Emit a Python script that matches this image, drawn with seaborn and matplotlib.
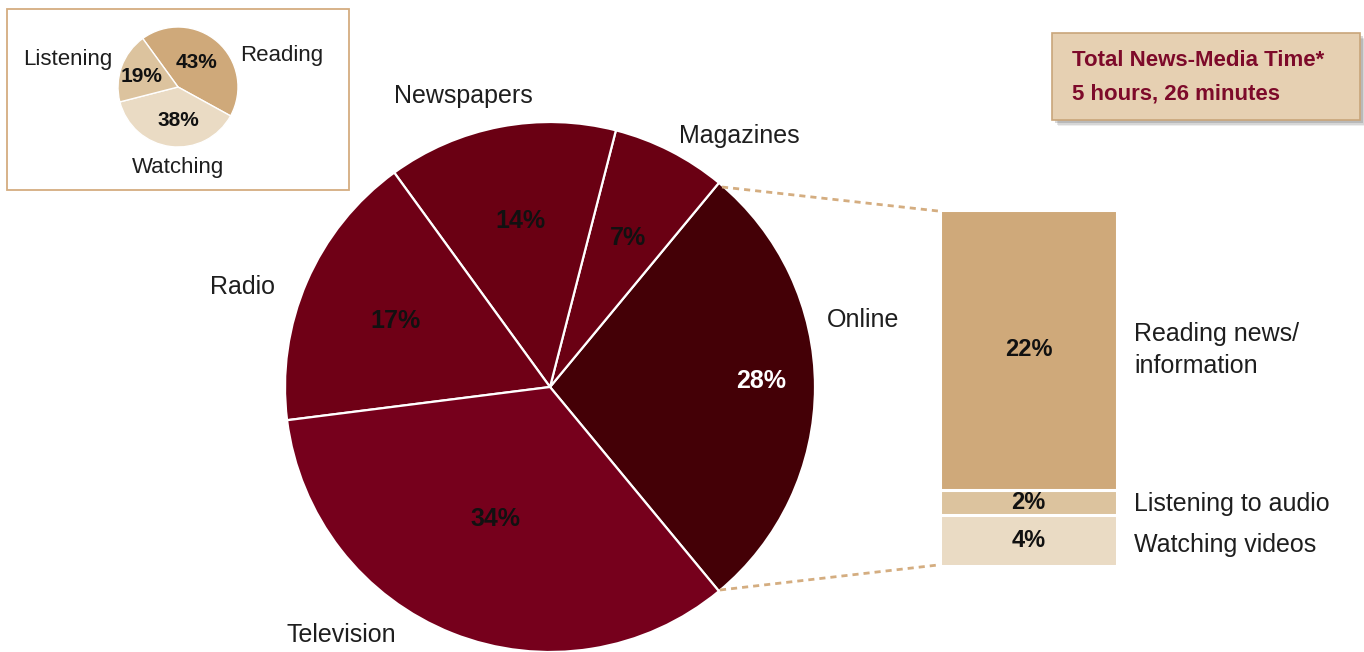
import matplotlib
matplotlib.use("Agg")
import matplotlib.pyplot as plt
from matplotlib.patches import Rectangle
import seaborn as sns

# --- data -----------------------------------------------------------------
media = ["Online", "Magazines", "Newspapers", "Radio", "Television"]
media_share = [28, 7, 14, 17, 34]
media_colors = ["#440006", "#6a0013", "#6a0013", "#6f0016", "#76001c"]

mode = ["Reading", "Watching", "Listening"]
mode_share = [43, 38, 19]
mode_colors = ["#cfa97a", "#eadbc4", "#dcc39e"]

online_parts = ["Watching videos", "Listening to audio", "Reading news/\ninformation"]
online_share = [4, 2, 22]
online_colors = ["#eadbc4", "#dcc39e", "#cfa97a"]

title_lines = ["Total News-Media Time*", "5 hours, 26 minutes"]

# --- style ----------------------------------------------------------------
sns.set_theme(style="white")
plt.rcParams["font.family"] = ["Liberation Sans", "DejaVu Sans"]

W, H = 1364, 652
fig = plt.figure(figsize=(W / 100, H / 100), dpi=100)
fig.patch.set_facecolor("white")

TXT = "#1e1e1e"


def pie_axes(cx, cy, r, pad=1.03):
    """Square axes centred on pixel (cx, cy) holding a unit pie of radius r px."""
    half = r * pad
    ax = fig.add_axes([(cx - half) / W, (H - cy - half) / H, 2 * half / W, 2 * half / H])
    return ax, pad


# main pie
axp, pad = pie_axes(550, 387, 265)
axp.pie(media_share, colors=media_colors, startangle=-50.4, counterclock=True,
        radius=1, wedgeprops=dict(edgecolor="white", linewidth=1.6))
axp.set_xlim(-pad, pad)
axp.set_ylim(-pad, pad)
axp.set_aspect("equal")
axp.axis("off")

# inset pie
axi, pad_i = pie_axes(178, 87, 60)
axi.pie(mode_share, colors=mode_colors, startangle=126, counterclock=False,
        radius=1, wedgeprops=dict(edgecolor="white", linewidth=1.0))
axi.set_xlim(-pad_i, pad_i)
axi.set_ylim(-pad_i, pad_i)
axi.set_aspect("equal")
axi.axis("off")

# breakdown of the online slice as a stacked column
axb = fig.add_axes([940 / W, (H - 566) / H, 177 / W, 356 / H])
bottom = 0
for share, col in zip(online_share, online_colors):
    axb.bar(0, share, bottom=bottom, width=1.0, color=col,
            edgecolor="white", linewidth=2.2)
    axb.text(0, bottom + share / 2, f"{share}%", ha="center", va="center",
             fontsize=17, fontweight="bold", color="#111111")
    bottom += share
axb.set_xlim(-0.5, 0.5)
axb.set_ylim(0, sum(online_share))
axb.axis("off")

# overlay in pixel coordinates for labels, frame, box and connectors
ax = fig.add_axes([0, 0, 1, 1], zorder=10)
ax.set_xlim(0, W)
ax.set_ylim(H, 0)
ax.patch.set_alpha(0)
ax.axis("off")

# main pie labels
main_name_pos = {"Online": (863, 320), "Magazines": (739, 136),
                 "Newspapers": (463, 96), "Radio": (242, 287),
                 "Television": (341, 635)}
main_pct_pos = {"Online": (761, 381), "Magazines": (628, 238),
                "Newspapers": (520, 221), "Radio": (395, 321),
                "Television": (495, 519)}
for name, share in zip(media, media_share):
    x, y = main_name_pos[name]
    ax.text(x, y, name, ha="center", va="center", fontsize=18, color=TXT)
    px, py = main_pct_pos[name]
    ax.text(px, py, f"{share}%", ha="center", va="center", fontsize=18,
            fontweight="bold", color="white" if name == "Online" else "#111111")

# inset frame and labels
ax.add_patch(Rectangle((7, 9), 342, 181, fill=False, edgecolor="#d4ad80", linewidth=1.3))
mode_name_pos = {"Reading": (282, 55), "Watching": (178, 167), "Listening": (68, 60)}
mode_pct_pos = {"Reading": (196, 63), "Watching": (178, 121), "Listening": (142, 76)}
for name, share in zip(mode, mode_share):
    x, y = mode_name_pos[name]
    ax.text(x, y, name, ha="center", va="center", fontsize=16, color=TXT)
    px, py = mode_pct_pos[name]
    ax.text(px, py, f"{share}%", ha="center", va="center", fontsize=15,
            fontweight="bold", color="#111111")

# column labels
part_label_y = {"Watching videos": 545, "Listening to audio": 504,
                "Reading news/\ninformation": 350}
for name in online_parts:
    ax.text(1134, part_label_y[name], name, ha="left", va="center",
            fontsize=18, color=TXT, linespacing=1.4)

# dashed connectors from the online slice to the column
for (x0, y0), (x1, y1) in [((722, 187), (938, 211)), ((720, 590), (938, 565))]:
    ax.plot([x0, x1], [y0, y1], color="#d4ad80", linewidth=2.0,
            linestyle=(0, (2.2, 1.8)), solid_capstyle="butt")

# total time box with soft shadow
for off, a in [(6, 0.10), (4.5, 0.15), (3, 0.22)]:
    ax.add_patch(Rectangle((1052 + off, 33 + off), 308, 87, facecolor="#555555",
                           edgecolor="none", alpha=a))
ax.add_patch(Rectangle((1052, 33), 308, 87, facecolor="#e6d0b2",
                       edgecolor="#c9a57a", linewidth=1.2))
ax.text(1072, 61, title_lines[0], ha="left", va="center", fontsize=16,
        fontweight="bold", color="#7d0a2a")
ax.text(1072, 94, title_lines[1], ha="left", va="center", fontsize=16,
        fontweight="bold", color="#7d0a2a")

fig.savefig("out.png", dpi=100, facecolor="white")
